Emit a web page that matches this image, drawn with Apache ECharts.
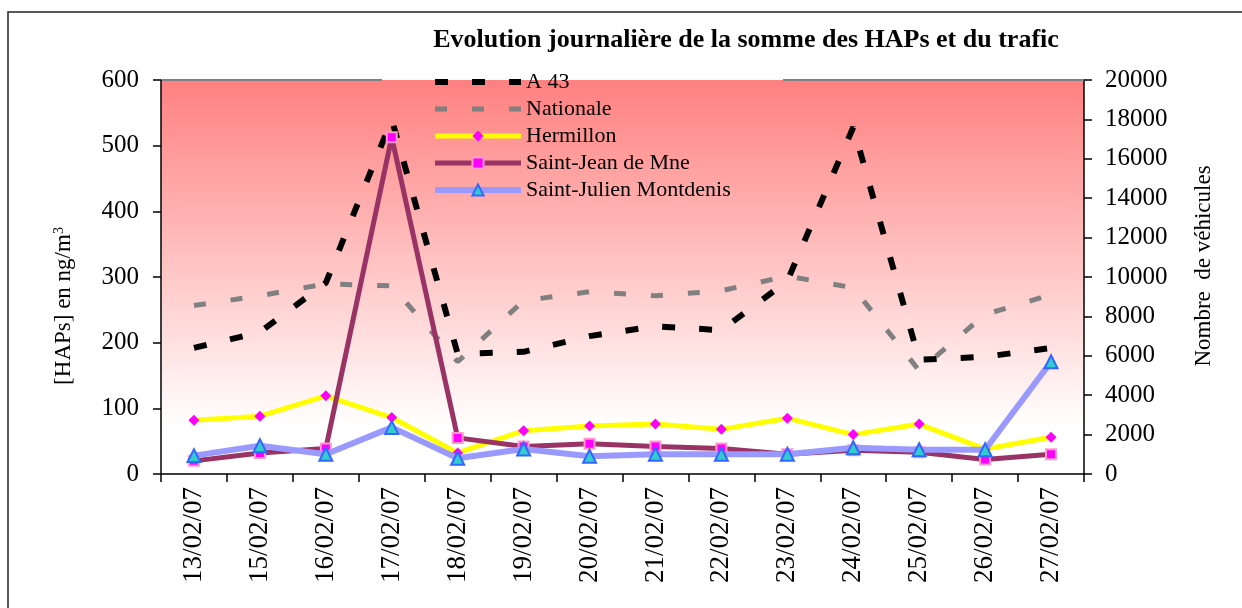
<!DOCTYPE html>
<html>
<head>
<meta charset="utf-8">
<script src="https://cdn.jsdelivr.net/npm/echarts@6/dist/echarts.min.js"></script>
<style>
  html, body { margin: 0; padding: 0; background: #fff; }
  #chart { width: 1242px; height: 608px; }
</style>
</head>
<body>
<div id="chart"></div>
<script>
const FONT = "'Liberation Serif', 'Times New Roman', serif";

const categories = ['13/02/07', '15/02/07', '16/02/07', '17/02/07', '18/02/07', '19/02/07', '20/02/07',
  '21/02/07', '22/02/07', '23/02/07', '24/02/07', '25/02/07', '26/02/07', '27/02/07'];

// traffic (right axis, vehicles)
const a43 = [6400, 7200, 9700, 18000, 6100, 6200, 7000, 7500, 7300, 9800, 17600, 5800, 5950, 6400];
const nationale = [8550, 9050, 9650, 9550, 5700, 8800, 9250, 9050, 9300, 10050, 9450, 5250, 8100, 9100];

// HAPs (left axis, ng/m3)
const hermillon = [82, 88, 119, 86, 32, 66, 73, 76, 68, 85, 60, 76, 38, 56];
const saintJean = [20, 32, 39, 513, 55, 42, 46, 42, 39, 30, 36, 33, 22, 30];
const saintJulien = [28, 43, 30, 71, 24, 38, 27, 30, 30, 30, 40, 37, 37, 171];

const chart = echarts.init(document.getElementById('chart'));

const GRID = { left: 161, right: 158, top: 80, bottom: 134 };
const DASH_A43 = [13, 24];
const DASH_NAT = [12, 25];

chart.setOption({
  animation: false,
  backgroundColor: '#fff',
  title: {
    text: 'Evolution journalière de la somme des HAPs et du trafic',
    left: 741,
    top: 22,
    textAlign: 'center',
    textStyle: { fontFamily: FONT, fontWeight: 'bold', fontSize: 26, color: '#000' }
  },
  legend: {
    orient: 'vertical',
    left: 432,
    top: 71,
    padding: 0,
    itemWidth: 86,
    itemHeight: 14,
    itemGap: 5,
    textStyle: { fontFamily: FONT, fontSize: 22, color: '#000', lineHeight: 22 },
    data: [
      { name: 'A 43', lineStyle: { width: 6, type: DASH_A43 }, itemStyle: { opacity: 0 } },
      { name: 'Nationale', lineStyle: { width: 5, type: DASH_NAT }, itemStyle: { opacity: 0 } },
      { name: 'Hermillon', lineStyle: { width: 5 } },
      { name: 'Saint-Jean de Mne', lineStyle: { width: 5 } },
      { name: 'Saint-Julien Montdenis', lineStyle: { width: 6 } }
    ]
  },
  grid: {
    ...GRID,
    show: true,
    borderWidth: 0,
    backgroundColor: {
      type: 'linear', x: 0, y: 0, x2: 0, y2: 1,
      colorStops: [
        { offset: 0, color: '#FF8080' },
        { offset: 0.88, color: '#FFFFFF' },
        { offset: 1, color: '#FFFFFF' }
      ]
    }
  },
  xAxis: {
    type: 'category',
    data: categories,
    boundaryGap: true,
    axisLine: { lineStyle: { color: '#000', width: 1.5 } },
    axisTick: { show: true, length: 8, lineStyle: { color: '#000', width: 1.5 } },
    axisLabel: { rotate: 90, margin: 13, fontFamily: FONT, fontSize: 27, color: '#000', interval: 0 },
    splitLine: { show: false }
  },
  yAxis: [
    {
      type: 'value',
      min: 0, max: 600, interval: 100,
      axisLine: { show: true, lineStyle: { color: '#000', width: 1.5 } },
      axisTick: { show: true, length: 8, lineStyle: { color: '#000', width: 1.5 } },
      axisLabel: { margin: 22, fontFamily: FONT, fontSize: 25, color: '#000' },
      splitLine: { show: false }
    },
    {
      type: 'value',
      position: 'right',
      min: 0, max: 20000, interval: 2000,
      axisLine: { show: true, lineStyle: { color: '#000', width: 1.5 } },
      axisTick: { show: true, length: 8, lineStyle: { color: '#000', width: 1.5 } },
      axisLabel: { margin: 21, fontFamily: FONT, fontSize: 25, color: '#000', formatter: v => String(v) },
      splitLine: { show: false }
    }
  ],
  graphic: [
    // outer frame
    { type: 'rect', shape: { x: 8, y: 12, width: 1400, height: 800 }, style: { fill: 'none', stroke: '#222', lineWidth: 1.5 }, silent: true },
    // plot top border, broken behind the legend
    { type: 'line', shape: { x1: 162, y1: 80, x2: 382, y2: 80 }, style: { stroke: '#808080', lineWidth: 2 }, z: 1, silent: true },
    { type: 'line', shape: { x1: 783, y1: 80, x2: 1084, y2: 80 }, style: { stroke: '#808080', lineWidth: 2 }, z: 1, silent: true },
    // axis names
    {
      type: 'text', x: 64, y: 306, rotation: Math.PI / 2,
      style: {
        text: '{a|[HAPs] en ng/m}{b|3}',
        align: 'center', verticalAlign: 'middle',
        rich: {
          a: { fontFamily: FONT, fontSize: 23, fill: '#000' },
          b: { fontFamily: FONT, fontSize: 14, fill: '#000', verticalAlign: 'top', padding: [0, 0, 10, 0] }
        }
      },
      silent: true
    },
    {
      type: 'text', x: 1204, y: 266, rotation: Math.PI / 2,
      style: { text: 'Nombre  de véhicules', fontFamily: FONT, fontSize: 23, fill: '#000', align: 'center', verticalAlign: 'middle' },
      silent: true
    }
  ],
  series: [
    {
      name: 'A 43', type: 'line', yAxisIndex: 1, data: a43, symbol: 'none',
      lineStyle: { color: '#000', width: 6, type: DASH_A43 },
      itemStyle: { color: '#000' }, z: 2
    },
    {
      name: 'Nationale', type: 'line', yAxisIndex: 1, data: nationale, symbol: 'none',
      lineStyle: { color: '#808080', width: 5, type: DASH_NAT },
      itemStyle: { color: '#808080' }, z: 2
    },
    {
      name: 'Hermillon', type: 'line', data: hermillon, symbol: 'diamond', symbolSize: 11,
      lineStyle: { color: '#FFFF00', width: 5 },
      itemStyle: { color: '#FF00FF' }, z: 3
    },
    {
      name: 'Saint-Jean de Mne', type: 'line', data: saintJean, symbol: 'rect', symbolSize: 10,
      lineStyle: { color: '#993366', width: 5 },
      itemStyle: { color: '#FF00FF', borderColor: '#FF99CC', borderWidth: 2 }, z: 4
    },
    {
      name: 'Saint-Julien Montdenis', type: 'line', data: saintJulien, symbol: 'triangle', symbolSize: 13,
      lineStyle: { color: '#9999FF', width: 6 },
      itemStyle: { color: '#33CCCC', borderColor: '#3366FF', borderWidth: 2 }, z: 5
    }
  ]
});
</script>
</body>
</html>
